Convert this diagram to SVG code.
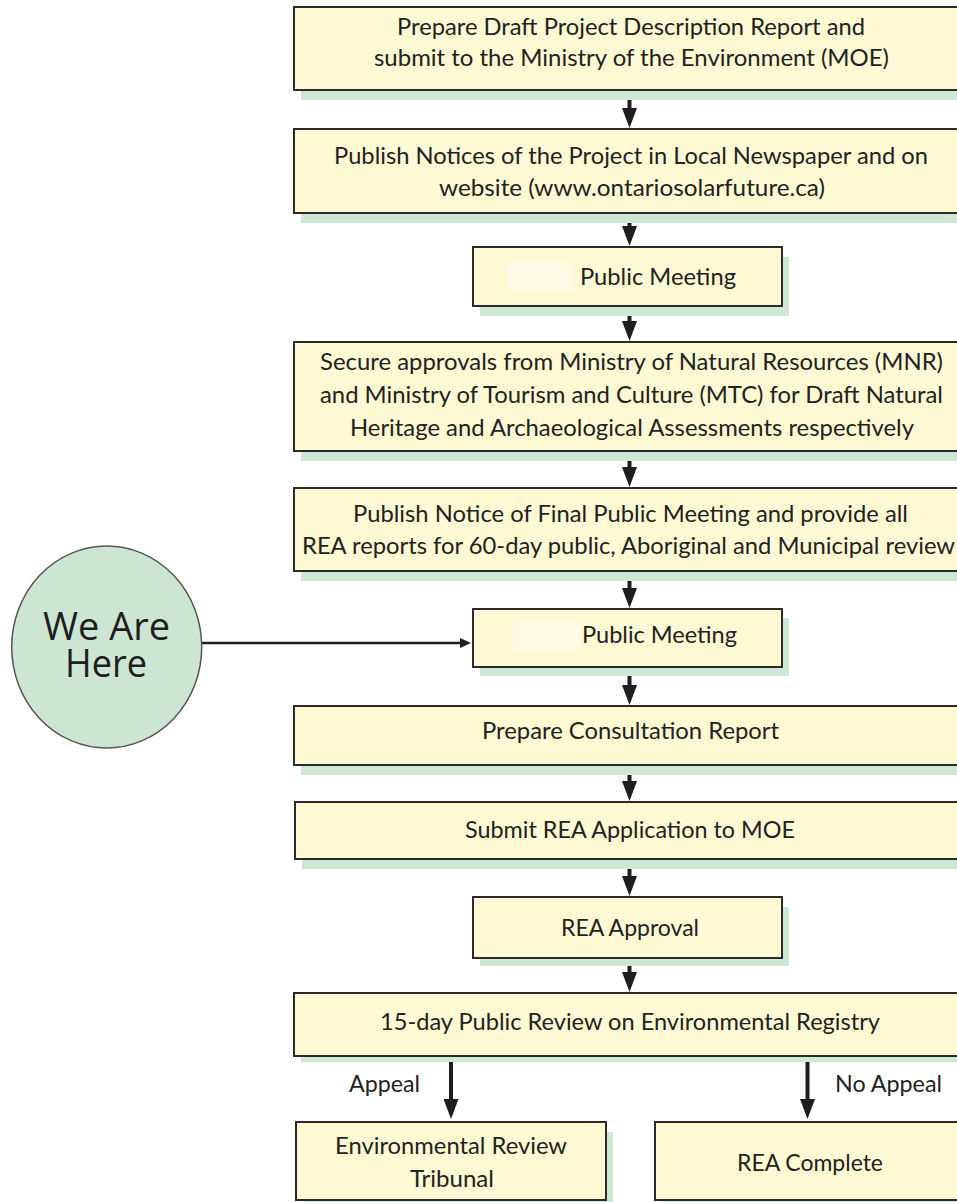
<svg xmlns="http://www.w3.org/2000/svg" width="957" height="1202" viewBox="0 0 957 1202">
  <style>
    .box { fill: #fdf9d3; stroke: #2a2a2a; stroke-width: 2; }
    .shadow { fill: #cfe7d6; stroke: none; }
    .patch { fill: #fdfbe6; stroke: none; }
    .t { font-family: Lato, "Liberation Sans", sans-serif; font-size: 24px; fill: #222; }
    .big { font-family: "Open Sans", "DejaVu Sans", sans-serif; font-size: 38px; fill: #1e1e1e; }
    .flow { fill: none; stroke: #1e1e1e; stroke-width: 4; }
    .thin { fill: none; stroke: #1e1e1e; stroke-width: 2.5; }
  </style>
  <defs>
    <marker id="head" viewBox="0 0 20 15" refX="1" refY="7.5" markerWidth="20" markerHeight="15" markerUnits="userSpaceOnUse" orient="auto">
      <path d="M0,0 L20,7.5 L0,15 z" fill="#1e1e1e"/>
    </marker>
    <marker id="headSmall" viewBox="0 0 11 10" refX="1" refY="5" markerWidth="11" markerHeight="10" markerUnits="userSpaceOnUse" orient="auto">
      <path d="M0,0 L11,5 L0,10 z" fill="#1e1e1e"/>
    </marker>
  </defs>

  <rect width="957" height="1202" fill="#ffffff"/>

  <!-- connectors -->
  <g id="connectors">
    <path class="flow" d="M629.5,90 V109" marker-end="url(#head)"/>
    <path class="flow" d="M629.5,213 V227" marker-end="url(#head)"/>
    <path class="flow" d="M629.5,306 V322" marker-end="url(#head)"/>
    <path class="flow" d="M629.5,451 V468" marker-end="url(#head)"/>
    <path class="flow" d="M629.5,571 V589" marker-end="url(#head)"/>
    <path class="flow" d="M629.5,667 V686" marker-end="url(#head)"/>
    <path class="flow" d="M629.5,765 V782" marker-end="url(#head)"/>
    <path class="flow" d="M629.5,859 V877" marker-end="url(#head)"/>
    <path class="flow" d="M629.5,958 V973" marker-end="url(#head)"/>
    <path class="flow" d="M451,1056 V1100" marker-end="url(#head)"/>
    <path class="flow" d="M807.5,1056 V1100" marker-end="url(#head)"/>
    <path class="thin" d="M202,643 H461" marker-end="url(#headSmall)"/>
    <text class="t" x="349" y="1092" textLength="71" lengthAdjust="spacingAndGlyphs">Appeal</text>
    <text class="t" x="835" y="1092" textLength="107" lengthAdjust="spacingAndGlyphs">No Appeal</text>
  </g>

  <g id="draft-report">
    <rect class="shadow" x="301" y="17" width="700" height="83"/>
    <rect class="box" x="294" y="7" width="700" height="83"/>
    <text class="t" x="397" y="35" textLength="468" lengthAdjust="spacingAndGlyphs">Prepare Draft Project Description Report and</text>
    <text class="t" x="374" y="66" textLength="515" lengthAdjust="spacingAndGlyphs">submit to the Ministry of the Environment (MOE)</text>
  </g>

  <g id="publish-notices">
    <rect class="shadow" x="301" y="139" width="700" height="84"/>
    <rect class="box" x="294" y="129" width="700" height="84"/>
    <text class="t" x="334" y="164" textLength="594" lengthAdjust="spacingAndGlyphs">Publish Notices of the Project in Local Newspaper and on</text>
    <text class="t" x="439" y="196" textLength="386" lengthAdjust="spacingAndGlyphs">website (www.ontariosolarfuture.ca)</text>
  </g>

  <g id="public-meeting-1">
    <rect class="shadow" x="480" y="257" width="309" height="59"/>
    <rect class="box" x="473" y="247" width="309" height="59"/>
    <rect class="patch" x="507" y="262" width="67" height="30"/>
    <text class="t" x="580" y="285" textLength="156" lengthAdjust="spacingAndGlyphs">Public Meeting</text>
  </g>

  <g id="secure-approvals">
    <rect class="shadow" x="301" y="352" width="700" height="109"/>
    <rect class="box" x="294" y="342" width="700" height="109"/>
    <text class="t" x="320" y="370" textLength="623" lengthAdjust="spacingAndGlyphs">Secure approvals from Ministry of Natural Resources (MNR)</text>
    <text class="t" x="320" y="403" textLength="623" lengthAdjust="spacingAndGlyphs">and Ministry of Tourism and Culture (MTC) for Draft Natural</text>
    <text class="t" x="350" y="436" textLength="564" lengthAdjust="spacingAndGlyphs">Heritage and Archaeological Assessments respectively</text>
  </g>

  <g id="final-meeting-notice">
    <rect class="shadow" x="301" y="498" width="700" height="83"/>
    <rect class="box" x="294" y="488" width="700" height="83"/>
    <text class="t" x="353" y="522" textLength="555" lengthAdjust="spacingAndGlyphs">Publish Notice of Final Public Meeting and provide all</text>
    <text class="t" x="302" y="554" textLength="653" lengthAdjust="spacingAndGlyphs">REA reports for 60-day public, Aboriginal and Municipal review</text>
  </g>

  <g id="we-are-here">
    <ellipse cx="106.7" cy="647" rx="95" ry="101" fill="#cde6d4" stroke="#555555" stroke-width="1.5"/>
    <text class="big"><tspan x="43" y="640" textLength="127" lengthAdjust="spacingAndGlyphs">We Are</tspan><tspan x="65" y="677" textLength="82" lengthAdjust="spacingAndGlyphs">Here</tspan></text>
  </g>

  <g id="public-meeting-2">
    <rect class="shadow" x="480" y="618" width="309" height="58"/>
    <rect class="box" x="473" y="609" width="309" height="58"/>
    <rect class="patch" x="513" y="622" width="67" height="30"/>
    <text class="t" x="582" y="643" textLength="155" lengthAdjust="spacingAndGlyphs">Public Meeting</text>
  </g>

  <g id="consultation-report">
    <rect class="shadow" x="301" y="716" width="700" height="59"/>
    <rect class="box" x="294" y="706" width="700" height="59"/>
    <text class="t" x="482" y="739" textLength="297" lengthAdjust="spacingAndGlyphs">Prepare Consultation Report</text>
  </g>

  <g id="submit-application">
    <rect class="shadow" x="302" y="812" width="700" height="57"/>
    <rect class="box" x="295" y="802" width="700" height="57"/>
    <text class="t" x="465" y="838" textLength="330" lengthAdjust="spacingAndGlyphs">Submit REA Application to MOE</text>
  </g>

  <g id="rea-approval">
    <rect class="shadow" x="480" y="907" width="309" height="59"/>
    <rect class="box" x="473" y="897" width="309" height="61"/>
    <text class="t" x="561" y="936" textLength="138" lengthAdjust="spacingAndGlyphs">REA Approval</text>
  </g>

  <g id="public-review">
    <rect class="shadow" x="301" y="1003" width="700" height="59"/>
    <rect class="box" x="294" y="993" width="700" height="63"/>
    <text class="t" x="380" y="1030" textLength="500" lengthAdjust="spacingAndGlyphs">15-day Public Review on Environmental Registry</text>
  </g>

  <g id="review-tribunal">
    <rect class="shadow" x="303" y="1132" width="310" height="80"/>
    <rect class="box" x="296" y="1122" width="310" height="78"/>
    <text class="t" x="335" y="1154" textLength="232" lengthAdjust="spacingAndGlyphs">Environmental Review</text>
    <text class="t" x="410" y="1187" textLength="84" lengthAdjust="spacingAndGlyphs">Tribunal</text>
  </g>

  <g id="rea-complete">
    <rect class="shadow" x="662" y="1132" width="340" height="80"/>
    <rect class="box" x="655" y="1122" width="340" height="78"/>
    <text class="t" x="737" y="1171" textLength="146" lengthAdjust="spacingAndGlyphs">REA Complete</text>
  </g>
</svg>
